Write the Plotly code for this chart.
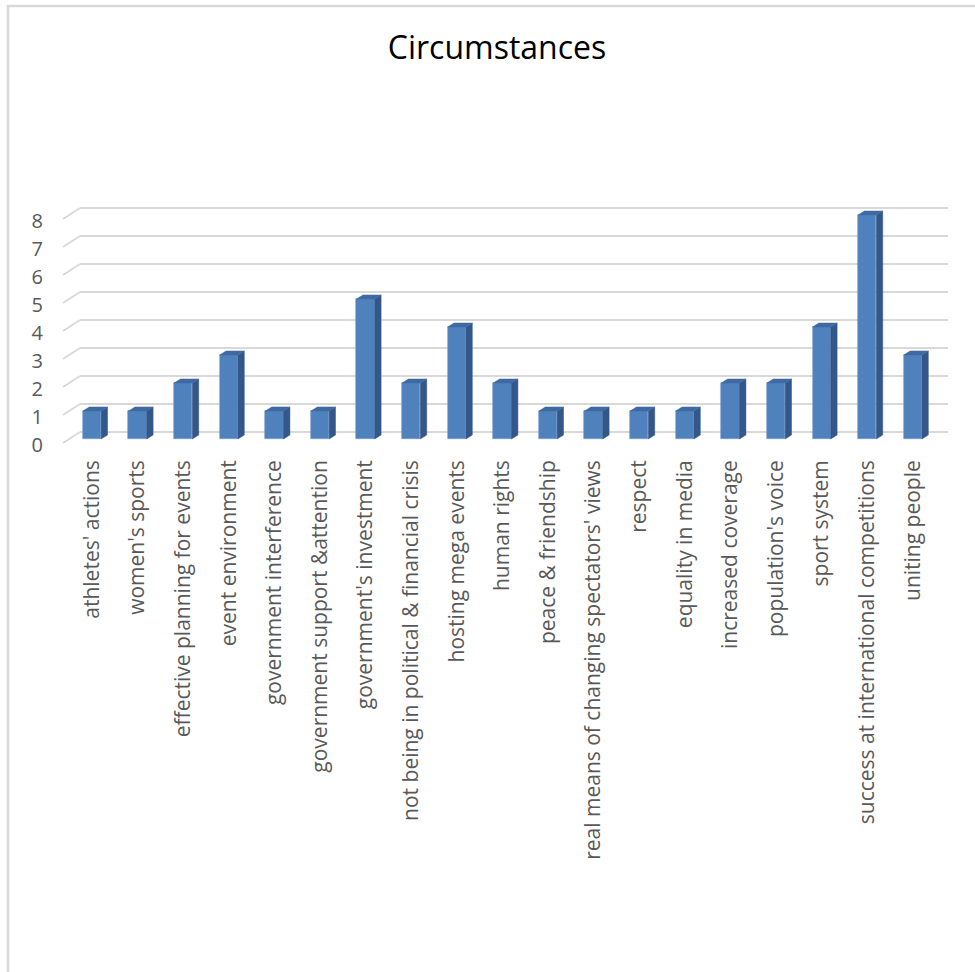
import plotly.graph_objects as go

# Circumstances mentioned, with counts
categories = [
    "athletes' actions",
    "women's sports",
    "effective planning for events",
    "event environment",
    "government interference",
    "government support &attention",
    "government's investment",
    "not being in political & financial crisis",
    "hosting mega events",
    "human rights",
    "peace & friendship",
    "real means of changing spectators' views",
    "respect",
    "equality in media",
    "increased coverage",
    "population's voice",
    "sport system",
    "success at international competitions",
    "uniting people",
]
counts = [1, 1, 2, 3, 1, 1, 5, 2, 4, 2, 1, 1, 1, 1, 2, 2, 4, 8, 3]
y_ticks = [0, 1, 2, 3, 4, 5, 6, 7, 8]

W, H = 975, 972
ML, MR, MT, MB = 55, 20, 150, 517
X_RANGE = [-0.8114, 18.925]
Y_RANGE = [-0.5714, 10.321]

FRONT = "#4F81BD"
SIDE = "#34578A"
TOP = "#3E69A2"
GRID = "#D9D9D9"
TEXT = "#595959"

BAR_W = 0.40      # front face width (category units)
DX, DY = 0.14, 0.143   # depth offset of the bars' side/top faces

xs = list(range(len(categories)))

fig = go.Figure()

# front faces of the columns
fig.add_trace(go.Bar(
    x=xs, y=counts, width=BAR_W,
    marker=dict(color=FRONT, line=dict(color="#6F9AD0", width=0.6)),
    hoverinfo="skip", showlegend=False,
))

# right side faces and top faces as filled polygons
side_x, side_y, top_x, top_y = [], [], [], []
for i, v in zip(xs, counts):
    r = i + BAR_W / 2
    l = i - BAR_W / 2
    side_x += [r, r + DX, r + DX, r, r, None]
    side_y += [0, DY, v + DY, v, 0, None]
    top_x += [l, l + DX, r + DX, r, l, None]
    top_y += [v, v + DY, v + DY, v, v, None]

fig.add_trace(go.Scatter(x=side_x, y=side_y, mode="lines", fill="toself",
                         fillcolor=SIDE, line=dict(color=SIDE, width=0.5),
                         hoverinfo="skip", showlegend=False))
fig.add_trace(go.Scatter(x=top_x, y=top_y, mode="lines", fill="toself",
                         fillcolor=TOP, line=dict(color=TOP, width=0.5),
                         hoverinfo="skip", showlegend=False))

# 3-D style gridlines: short diagonal on the floor edge plus the back-wall line
FLOOR_X0, WALL_X0, WALL_X1 = -0.636, -0.263, 18.77
FRONT_DY, BACK_DY = -0.143, 0.25
for v in y_ticks:
    fig.add_shape(type="line", xref="x", yref="y", layer="below",
                  x0=FLOOR_X0, y0=v + FRONT_DY, x1=WALL_X0, y1=v + BACK_DY,
                  line=dict(color=GRID, width=2))
    fig.add_shape(type="line", xref="x", yref="y", layer="below",
                  x0=WALL_X0, y0=v + BACK_DY, x1=WALL_X1, y1=v + BACK_DY,
                  line=dict(color=GRID, width=2))

# chart-area border (top and left edges)
pw = W - ML - MR
ph = H - MT - MB
def px_x(p):
    return (p - ML) / pw
def px_y(p):
    return 1 - (p - MT) / ph
fig.add_shape(type="path", xref="paper", yref="paper", layer="below",
              path=f"M {px_x(8)} {px_y(H + 5)} L {px_x(8)} {px_y(6)} L {px_x(W + 5)} {px_y(6)}",
              line=dict(color=GRID, width=2.5))

fig.update_layout(
    width=W, height=H,
    margin=dict(l=ML, r=MR, t=MT, b=MB),
    paper_bgcolor="white", plot_bgcolor="white",
    font=dict(family="Open Sans", color=TEXT),
    title=dict(text="Circumstances", x=497 / W, xanchor="center",
               y=1 - 48 / H, yanchor="middle", yref="container",
               font=dict(family="Open Sans", size=32, color="#000000")),
    bargap=0,
    xaxis=dict(range=X_RANGE, tickmode="array", tickvals=xs, ticktext=categories,
               tickangle=-90, tickfont=dict(size=21, color=TEXT),
               showgrid=False, zeroline=False, showline=False, ticks=""),
    yaxis=dict(range=Y_RANGE, tickmode="array", tickvals=y_ticks,
               ticktext=[str(t) for t in y_ticks],
               tickfont=dict(size=20, color=TEXT), ticklabelshift=6,
               ticklabelstandoff=11,
               showgrid=False, zeroline=False, showline=False, ticks=""),
)

fig.write_html("out.html")
